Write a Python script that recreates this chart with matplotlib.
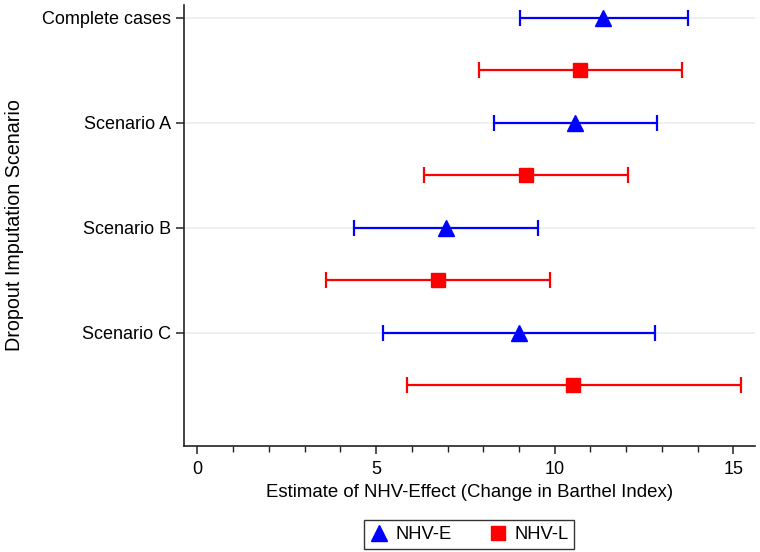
import numpy as np
import matplotlib
matplotlib.use("Agg")
import matplotlib.pyplot as plt
from matplotlib.lines import Line2D
from matplotlib.ticker import MultipleLocator

plt.rcParams["font.family"] = ["Liberation Sans", "DejaVu Sans"]

scenarios = ["Complete cases", "Scenario A", "Scenario B", "Scenario C"]

# NHV-E (early)
est_e = [11.36, 10.57, 6.96, 9.00]
lo_e = [9.03, 8.29, 4.38, 5.19]
hi_e = [13.74, 12.87, 9.53, 12.81]

# NHV-L (late)
est_l = [10.71, 9.19, 6.74, 10.52]
lo_l = [7.88, 6.34, 3.60, 5.86]
hi_l = [13.57, 12.04, 9.87, 15.22]

BLUE = "#0000ff"
RED = "#ff0000"


def err(est, lo, hi):
    est = np.asarray(est)
    return [est - np.asarray(lo), np.asarray(hi) - est]


fig = plt.figure(figsize=(7.6, 5.52), dpi=100)
ax = fig.add_axes([0.242, 0.192, 0.751, 0.799])

y = np.arange(len(scenarios))

for yy in y:
    ax.axhline(yy, color="#e6edf1", lw=1.2, zorder=0)

ax.errorbar(est_e, y, xerr=err(est_e, lo_e, hi_e), fmt="^", color=BLUE,
            ms=12, elinewidth=1.6, capsize=5.8, capthick=1.6)
ax.errorbar(est_l, y + 0.5, xerr=err(est_l, lo_l, hi_l), fmt="s", color=RED,
            ms=10.5, elinewidth=1.6, capsize=5.8, capthick=1.6)

ax.set_xlim(-0.38, 15.6)
ax.set_ylim(4.08, -0.12)
ax.set_yticks(y)
ax.set_yticklabels(scenarios)
ax.xaxis.set_major_locator(MultipleLocator(5))
ax.xaxis.set_minor_locator(MultipleLocator(1))

for s in ["top", "right"]:
    ax.spines[s].set_visible(False)
for s in ["left", "bottom"]:
    ax.spines[s].set_color("#222222")
    ax.spines[s].set_linewidth(1.2)

ax.tick_params(axis="both", which="major", labelsize=13, length=6,
               width=1.1, color="#222222")
ax.tick_params(axis="x", which="minor", length=4, width=1.0, color="#222222")
ax.tick_params(axis="x", pad=5)

ax.set_xlabel("Estimate of NHV-Effect (Change in Barthel Index)", fontsize=13.4,
              labelpad=4)
ax.set_ylabel("Dropout Imputation Scenario", fontsize=14.2, labelpad=13)

handles = [
    Line2D([], [], ls="none", marker="^", ms=12, color=BLUE, label="NHV-E"),
    Line2D([], [], ls="none", marker="s", ms=10.5, color=RED, label="NHV-L"),
]
leg = ax.legend(handles=handles, loc="upper center",
                bbox_to_anchor=(0.5, -0.168), borderaxespad=0, ncol=2,
                fontsize=13.2, frameon=True, fancybox=False,
                edgecolor="black", handletextpad=0.4, columnspacing=2.0,
                borderpad=0.32, handlelength=1.0)
leg.get_frame().set_linewidth(1.0)

fig.savefig("out.png", dpi=100)
